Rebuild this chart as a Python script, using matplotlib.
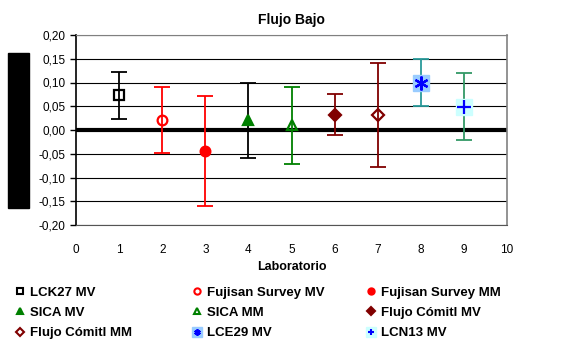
import numpy as np
import matplotlib.pyplot as plt
from matplotlib.lines import Line2D
from matplotlib.patches import Rectangle
from matplotlib.legend_handler import HandlerTuple

plt.rcParams['font.family'] = ['Liberation Sans', 'DejaVu Sans']

# data
labs = [1, 2, 3, 4, 5, 6, 7, 8, 9]
names = ["LCK27 MV", "Fujisan Survey MV", "Fujisan Survey MM",
         "SICA MV", "SICA MM", "Flujo Cómitl MV",
         "Flujo Cómitl MM", "LCE29 MV", "LCN13 MV"]
values = [0.073, 0.021, -0.045, 0.021, 0.010, 0.032, 0.032, 0.100, 0.049]
errors = [0.049, 0.070, 0.116, 0.079, 0.081, 0.043, 0.110, 0.050, 0.071]
yticks = [-0.20, -0.15, -0.10, -0.05, 0.00, 0.05, 0.10, 0.15, 0.20]

# styles per series
err_colors = ["black", "red", "red", "black", "green", "#800000", "#800000", "#2a9a9a", "#339966"]
markers = ["s", "o", "o", "^", "^", "D", "D", (6, 2, 0), "+"]
mfaces = ["none", "none", "red", "green", "none", "#800000", "none", "blue", "blue"]
medges = ["black", "red", "red", "green", "green", "#800000", "#800000", "blue", "blue"]
msizes = [7, 7, 7, 7, 7, 6, 6, 10, 10]
backs = [None] * 7 + ["#99ccff", "#ccffff"]

fig = plt.figure(figsize=(5.61, 3.42), dpi=100)
ax = fig.add_axes([76 / 561, 1 - 225 / 342, 431 / 561, 190 / 342])

ax.set_ylim(-0.20, 0.20)
ax.set_xlim(0, 10)
ax.set_yticks(yticks)
ax.set_yticklabels([f"{t:.2f}".replace(".", ",") for t in yticks])
ax.set_xticks(range(0, 11))
ax.tick_params(axis="x", length=0, labelsize=8.5, pad=14)
ax.tick_params(axis="y", length=4, labelsize=8.5, width=1)
for t in yticks:
    ax.axhline(t, color="black", lw=0.8, zorder=1)
ax.axhline(0, color="black", lw=3, zorder=2)
ax.spines["left"].set_color("black")
ax.spines["left"].set_linewidth(1.2)
ax.spines["bottom"].set_color("#555555")
ax.spines["top"].set_color("#808080")
ax.spines["right"].set_color("#808080")
ax.spines["right"].set_linewidth(1.2)

handles = []
for i in range(len(labs)):
    ax.errorbar(labs[i], values[i], yerr=errors[i], fmt="none",
                ecolor=err_colors[i], elinewidth=1.3, capsize=6, capthick=1.3, zorder=3)
    h = []
    if backs[i]:
        ax.plot(labs[i], values[i], marker="s", ms=12, mfc=backs[i], mec=backs[i], ls="none", zorder=4)
        h.append(Line2D([], [], marker="s", ms=7, mfc=backs[i], mec=backs[i], ls="none"))
    ax.plot(labs[i], values[i], marker=markers[i], ms=msizes[i], mfc=mfaces[i],
            mec=medges[i], mew=1.6, ls="none", zorder=5)
    h.append(Line2D([], [], marker=markers[i], ms=4.5, mfc=mfaces[i], mec=medges[i],
                    mew=1.5, ls="none"))
    handles.append(tuple(h) if len(h) > 1 else h[0])

ax.set_title("Flujo Bajo", fontsize=10, fontweight="bold", pad=8)
ax.set_xlabel("Laboratorio", fontsize=9, fontweight="bold", labelpad=3)

# black block left of the y axis
fig.patches.append(Rectangle((8 / 561, 1 - 208 / 342), 21 / 561, 155 / 342,
                             transform=fig.transFigure, color="black"))

# one legend per column, so the columns sit where the reference has them
col_x = [9, 186, 360]
for c in range(3):
    idx = [c, c + 3, c + 6]
    fig.legend([handles[k] for k in idx], [names[k] for k in idx],
               loc="upper left", bbox_to_anchor=(col_x[c] / 561, 1 - 281 / 342),
               frameon=False, prop={"weight": "bold", "size": 9.5},
               handlelength=0.8, handletextpad=0.4,
               labelspacing=0.62, borderaxespad=0,
               handler_map={tuple: HandlerTuple(ndivide=None, pad=-0.8)})

fig.savefig("out.png", dpi=100)
